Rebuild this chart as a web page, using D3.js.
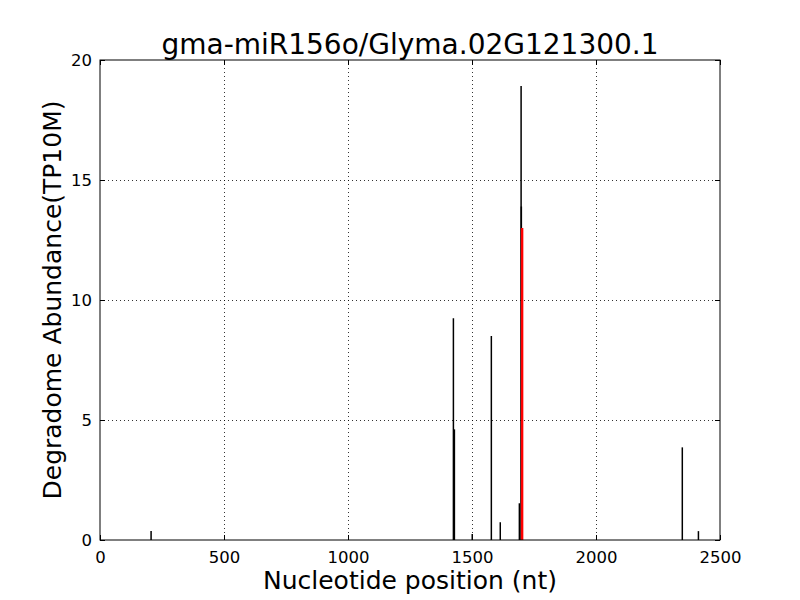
<!DOCTYPE html>
<html><head><meta charset="utf-8">
<script src="https://cdn.jsdelivr.net/npm/d3@7"></script>
<style>body{margin:0;background:#fff;} svg{display:block;}</style>
</head><body>
<script>
const titleText = "gma-miR156o/Glyma.02G121300.1";
const xLabel = "Nucleotide position (nt)";
const yLabel = "Degradome Abundance(TP10M)";
const xTicks = [0, 500, 1000, 1500, 2000, 2500];
const yTicks = [0, 5, 10, 15, 20];
const positions = [206, 1425, 1429, 1501, 1578, 1614, 1691, 1698, 1699, 2348, 2413];
const abundances = [0.37, 9.24, 4.61, 0.25, 8.5, 0.74, 1.53, 18.92, 13.9, 3.86, 0.37];
const targetPos = [1702];
const targetVal = [13.0];

(function () {
const W = 800, H = 600;
const m = {l: 100, r: 80, t: 60, b: 60};
const svg = d3.select("body").append("svg").attr("width", W).attr("height", H);
const x = d3.scaleLinear().domain([0, 2500]).range([m.l, W - m.r]);
const y = d3.scaleLinear().domain([0, 20]).range([H - m.b, m.t]);
const font = "DejaVu Sans";

// grid
const g = svg.append("g");
g.selectAll(".gx").data(xTicks.slice(1, -1)).enter().append("line")
  .attr("x1", d => Math.round(x(d)) + 0.5).attr("x2", d => Math.round(x(d)) + 0.5)
  .attr("y1", y(20)).attr("y2", y(0))
  .attr("stroke", "#000").attr("stroke-width", 0.8).attr("stroke-dasharray", "1,3");
g.selectAll(".gy").data(yTicks.slice(1, -1)).enter().append("line")
  .attr("y1", d => Math.round(y(d)) + 0.5).attr("y2", d => Math.round(y(d)) + 0.5)
  .attr("x1", x(0)).attr("x2", x(2500))
  .attr("stroke", "#000").attr("stroke-width", 0.8).attr("stroke-dasharray", "1,3");

// bars
svg.append("g").selectAll("line").data(positions.map((p, i) => [p, abundances[i]])).enter().append("line")
  .attr("x1", d => x(d[0])).attr("x2", d => x(d[0]))
  .attr("y1", y(0)).attr("y2", d => y(d[1]))
  .attr("stroke", "#000").attr("stroke-width", 1.5);
svg.append("g").selectAll("line").data(targetPos.map((p, i) => [p, targetVal[i]])).enter().append("line")
  .attr("x1", d => x(d[0])).attr("x2", d => x(d[0]))
  .attr("y1", y(0)).attr("y2", d => y(d[1]))
  .attr("stroke", "#ff0000").attr("stroke-width", 2.5);

// axes (ticks inside on all sides)
const tl = 5;
const axB = svg.append("g").attr("transform", `translate(0,${y(0)})`)
  .call(d3.axisBottom(x).tickValues(xTicks).tickSize(-tl).tickPadding(8).tickFormat(d3.format("d")));
const axT = svg.append("g").attr("transform", `translate(0,${y(20)})`)
  .call(d3.axisTop(x).tickValues(xTicks).tickSize(-tl).tickFormat(""));
const axL = svg.append("g").attr("transform", `translate(${x(0)},0)`)
  .call(d3.axisLeft(y).tickValues(yTicks).tickSize(-tl).tickPadding(8).tickFormat(d3.format("d")));
const axR = svg.append("g").attr("transform", `translate(${x(2500)},0)`)
  .call(d3.axisRight(y).tickValues(yTicks).tickSize(-tl).tickFormat(""));
[axB, axT, axL, axR].forEach(a => {
  a.select(".domain").remove();
  a.selectAll("line").attr("stroke", "#000");
  a.selectAll("text").attr("font-family", font).attr("font-size", 16.5).attr("fill", "#000");
});
axB.selectAll("text").attr("dy", "0.9em");
svg.append("rect").attr("x", x(0)).attr("y", y(20)).attr("width", x(2500) - x(0)).attr("height", y(0) - y(20))
  .attr("fill", "none").attr("stroke", "#000").attr("stroke-width", 1);

svg.append("text").attr("x", (x(0) + x(2500)) / 2).attr("y", 54).attr("text-anchor", "middle")
  .attr("font-family", font).attr("font-size", 28).text(titleText);
svg.append("text").attr("x", (x(0) + x(2500)) / 2).attr("y", 589).attr("text-anchor", "middle")
  .attr("font-family", font).attr("font-size", 25).text(xLabel);
svg.append("text").attr("transform", `translate(61,${(y(0) + y(20)) / 2}) rotate(-90)`).attr("text-anchor", "middle")
  .attr("font-family", font).attr("font-size", 25).text(yLabel);
})();
</script>
</body></html>
